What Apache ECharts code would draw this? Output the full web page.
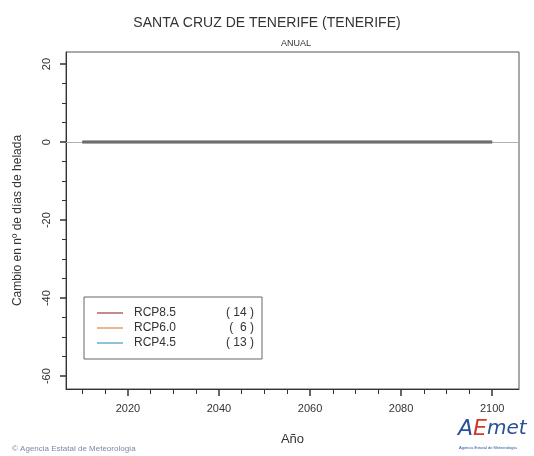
<!DOCTYPE html>
<html><head><meta charset="utf-8">
<script src="https://cdn.jsdelivr.net/npm/echarts@6/dist/echarts.min.js"></script>
<style>html,body{margin:0;padding:0;background:#fff}#c{width:534px;height:456px}</style>
</head><body><div id="c"></div>
<script>
const years = [2010,2011,2012,2013,2014,2015,2016,2017,2018,2019,2020,2021,2022,2023,2024,2025,2026,2027,2028,2029,2030,2031,2032,2033,2034,2035,2036,2037,2038,2039,2040,2041,2042,2043,2044,2045,2046,2047,2048,2049,2050,2051,2052,2053,2054,2055,2056,2057,2058,2059,2060,2061,2062,2063,2064,2065,2066,2067,2068,2069,2070,2071,2072,2073,2074,2075,2076,2077,2078,2079,2080,2081,2082,2083,2084,2085,2086,2087,2088,2089,2090,2091,2092,2093,2094,2095,2096,2097,2098,2099,2100];
const rcp85 = [0,0,0,0,0,0,0,0,0,0,0,0,0,0,0,0,0,0,0,0,0,0,0,0,0,0,0,0,0,0,0,0,0,0,0,0,0,0,0,0,0,0,0,0,0,0,0,0,0,0,0,0,0,0,0,0,0,0,0,0,0,0,0,0,0,0,0,0,0,0,0,0,0,0,0,0,0,0,0,0,0,0,0,0,0,0,0,0,0,0,0];
const rcp60 = [0,0,0,0,0,0,0,0,0,0,0,0,0,0,0,0,0,0,0,0,0,0,0,0,0,0,0,0,0,0,0,0,0,0,0,0,0,0,0,0,0,0,0,0,0,0,0,0,0,0,0,0,0,0,0,0,0,0,0,0,0,0,0,0,0,0,0,0,0,0,0,0,0,0,0,0,0,0,0,0,0,0,0,0,0,0,0,0,0,0,0];
const rcp45 = [0,0,0,0,0,0,0,0,0,0,0,0,0,0,0,0,0,0,0,0,0,0,0,0,0,0,0,0,0,0,0,0,0,0,0,0,0,0,0,0,0,0,0,0,0,0,0,0,0,0,0,0,0,0,0,0,0,0,0,0,0,0,0,0,0,0,0,0,0,0,0,0,0,0,0,0,0,0,0,0,0,0,0,0,0,0,0,0,0,0,0];
const scenarios = ['RCP8.5','RCP6.0','RCP4.5'];
const counts = [14, 6, 13];
const legendColors = ['#c48a8e','#e8b98a','#8fc0dc'];
const xLabels = [2020,2040,2060,2080,2100];
const xMinorTicks = [2010,2015,2025,2030,2035,2045,2050,2055,2065,2070,2075,2085,2090,2095];
const yLabels = [-60,-40,-20,0,20];
const yMinorTicks = [-55,-50,-45,-35,-30,-25,-15,-10,-5,5,10,15];

const FONT = 'Liberation Sans';
const XMIN = 2006.4, XMAX = 2105.9, YMIN = -63.3, YMAX = 23.1;
const chart = echarts.init(document.getElementById('c'), null, {renderer:'canvas'});
const seriesData = [rcp85, rcp60, rcp45];
const series = scenarios.map((s,i)=>({
  name: s, type:'line', xAxisIndex:0, yAxisIndex:0, symbol:'none', showSymbol:false,
  data: years.map((y,k)=>[y, seriesData[i][k]]),
  lineStyle:{color:'#6e6e6e', width:2.5}, itemStyle:{color:'#6e6e6e'},
  z: 5, silent:true,
  markLine: i===0 ? {symbol:'none', silent:true, label:{show:false},
    lineStyle:{color:'#b0b0b0', width:1, type:'solid'}, data:[{yAxis:0}], z:2} : undefined
}));
chart.setOption({
  animation:false,
  textStyle:{fontFamily:FONT},
  title:[
    {text:'SANTA CRUZ DE TENERIFE (TENERIFE)', left:'center', top:11,
     textStyle:{fontFamily:FONT, fontSize:14, fontWeight:'normal', color:'#333'}},
    {text:'ANUAL', left:291, top:34, textAlign:'center',
     textStyle:{fontFamily:FONT, fontSize:9, fontWeight:'normal', color:'#333'}}
  ],
  grid:{left:66, right:15, top:52, bottom:67, show:true, borderColor:'#555', borderWidth:1, backgroundColor:'transparent'},
  xAxis:[
    {type:'value', min:XMIN, max:XMAX, position:'bottom',
     axisLine:{show:true, onZero:false, lineStyle:{color:'#333', width:1}},
     axisTick:{show:true, customValues:xLabels, length:7, lineStyle:{color:'#333', width:1.5}},
     axisLabel:{show:true, customValues:xLabels, margin:14, fontFamily:FONT, fontSize:11, color:'#333', formatter:v=>String(v)},
     splitLine:{show:false},
     name:'Año', nameLocation:'middle', nameGap:44, nameTextStyle:{fontFamily:FONT, fontSize:13, color:'#333'}},
    {type:'value', min:XMIN, max:XMAX, position:'bottom', gridIndex:0,
     axisLine:{show:false, onZero:false}, axisTick:{show:true, customValues:xMinorTicks, length:5, lineStyle:{color:'#333'}},
     axisLabel:{show:false}, splitLine:{show:false}}
  ],
  yAxis:[
    {type:'value', min:YMIN, max:YMAX, position:'left',
     axisLine:{show:true, onZero:false, lineStyle:{color:'#333', width:1}},
     axisTick:{show:true, customValues:yLabels, length:6, lineStyle:{color:'#333', width:1.5}},
     axisLabel:{show:true, customValues:yLabels, rotate:90, margin:14, fontFamily:FONT, fontSize:11, color:'#333', formatter:v=>String(v)},
     splitLine:{show:false},
     name:'Cambio en nº de días de helada', nameLocation:'middle', nameGap:42,
     nameTextStyle:{fontFamily:FONT, fontSize:12, color:'#333'}},
    {type:'value', min:YMIN, max:YMAX, position:'left', gridIndex:0,
     axisLine:{show:false, onZero:false}, axisTick:{show:true, customValues:yMinorTicks, length:4, lineStyle:{color:'#333'}},
     axisLabel:{show:false}, splitLine:{show:false}}
  ],
  legend:{
    left:84, top:297, orient:'vertical', padding:[10,8,10,12],
    borderColor:'#666', borderWidth:1, itemWidth:26, itemHeight:14, itemGap:3,
    data: scenarios.map((s,i)=>({name:s, itemStyle:{color:legendColors[i], opacity:0, borderWidth:0}, lineStyle:{color:legendColors[i], width:2}})),
    formatter: function(name){
      const i = scenarios.indexOf(name);
      const c = counts[i] < 10 ? '(  ' + counts[i] + ' )' : '( ' + counts[i] + ' )';
      return '{n|' + name + '}{c|' + c + '}';
    },
    textStyle:{fontFamily:FONT, fontSize:12, color:'#333',
      rich:{n:{width:86, padding:[0,0,0,6], fontSize:12, color:'#333', fontFamily:FONT},
            c:{width:34, align:'right', fontSize:12, color:'#333', fontFamily:FONT}}},
    selectedMode:false
  },
  graphic:[
    {type:'text', left:12, top:445, style:{text:'© Agencia Estatal de Meteorología', fontFamily:FONT, fontSize:8, fill:'#7a8aa0'}},
    {type:'text', left:458, top:418, style:{
      text:'{a|A}{e|E}{m|met}', fontFamily:'DejaVu Sans', fontStyle:'italic', fontSize:20,
      rich:{a:{fill:'#2a4f9a', fontSize:22, fontFamily:'DejaVu Sans', fontStyle:'italic'},
            e:{fill:'#d03a2a', fontSize:22, fontFamily:'DejaVu Sans', fontStyle:'italic'},
            m:{fill:'#2a4f9a', fontSize:20, fontFamily:'DejaVu Sans', fontStyle:'italic'}}}},
    {type:'text', left:459, top:446, style:{text:'Agencia Estatal de Meteorología', fontFamily:FONT, fontSize:4, fill:'#2a4f9a'}}
  ],
  series: series
});
</script></body></html>
